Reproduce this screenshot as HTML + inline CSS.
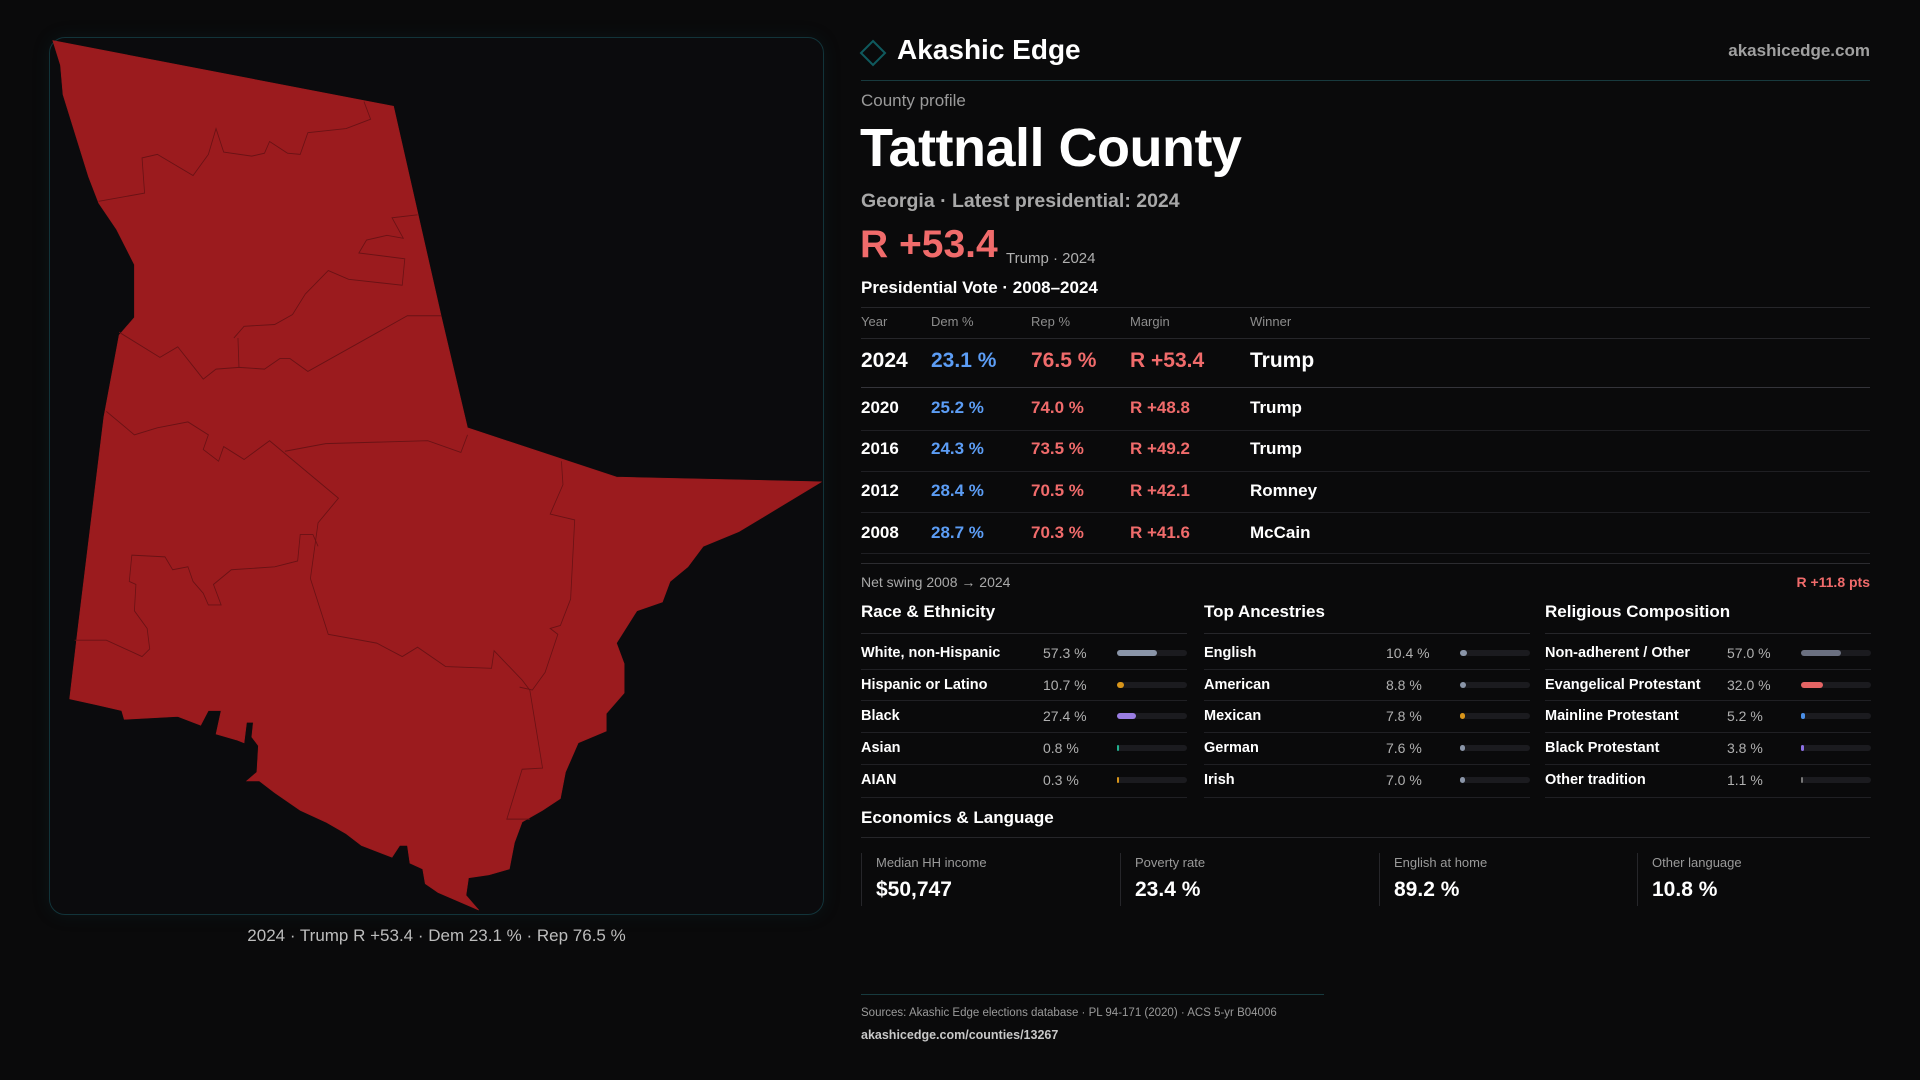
<!DOCTYPE html>
<html><head><meta charset="utf-8">
<style>
*{margin:0;padding:0;box-sizing:border-box}
body{width:1920px;height:1080px;background:#0a0a0b;font-family:"Liberation Sans",sans-serif;color:#fff;position:relative;overflow:hidden}
.a{position:absolute;white-space:nowrap}
.ln{position:absolute;height:1px;background:#26262a}
.g{color:#a9a9a9}
.red{color:#f06b6b}
.blue{color:#5c9df5}
</style></head><body>
<div class="a" style="left:49px;top:37px;width:775px;height:878px;border:1px solid #12343a;border-radius:16px;background:#0b0b0d;box-shadow:0 0 18px rgba(20,80,90,0.15)"></div>
<svg class="a" style="left:0;top:0" width="900" height="960">
<g transform="translate(40,30) scale(0.5102,0.5867)">
<polygon fill="#9b1b1e" stroke="#9b1b1e" stroke-width="1" points="25,18 693,130 787,490 838,678 1130,762 1532,770 1370,855 1300,880 1270,915 1235,940 1220,975 1170,990 1130,1045 1145,1080 1145,1130 1110,1165 1110,1195 1055,1215 1030,1265 1020,1310 985,1330 945,1350 930,1385 920,1430 880,1440 840,1445 835,1475 860,1500 780,1470 755,1455 750,1430 725,1420 720,1390 705,1390 690,1410 630,1390 600,1370 560,1350 510,1330 460,1300 430,1280 405,1280 425,1265 428,1220 415,1205 418,1180 405,1180 400,1215 385,1210 345,1200 355,1160 330,1160 315,1185 270,1170 165,1175 160,1160 110,1150 58,1140 75,1015 125,660 155,520 185,490 185,400 150,340 115,295 95,250 70,180 45,110 40,60"/>
<g fill="none" stroke="#6a1215" stroke-width="1.6">
<polyline points="155,515 235,558 270,540 320,595 345,578 390,575 440,578 470,560 490,560 525,582 720,487 787,487"/>
<polyline points="115,292 205,278 200,218 230,212 300,248 330,212 345,168 360,208 415,215 440,210 450,190 485,210 510,212 525,175 600,168 648,152 635,122"/>
<polyline points="380,525 400,505 460,502 495,485 520,450 565,410 605,425 710,435 715,390 625,380 640,358 680,350 712,355 690,320 740,315"/>
<polyline points="390,575 388,525"/>
<polyline points="130,650 185,690 230,678 290,668 330,690 320,715 350,735 360,710 400,732 450,700 585,798 545,840 530,935 565,1030 660,1045 710,1068 740,1052 795,1085 885,1088 890,1058 945,1108 960,1125 985,1258 945,1260 915,1345 960,1345"/>
<polyline points="480,718 560,705 760,700 825,720 838,690"/>
<polyline points="1022,735 1025,775 1000,825 1048,835 1040,970 1020,1015 1000,1020 1015,1030 990,1095 965,1125 940,1120"/>
<polyline points="68,1040 130,1040 200,1068 215,1055 210,1020 185,990 188,945 175,940 180,895 245,898 260,920 290,915 300,940 320,960 330,980 355,980 340,945 375,920 460,915 505,905 510,860 535,860 545,880"/>
</g></g></svg>
<div class="a g" style="left:49px;width:775px;text-align:center;top:925px;font-size:17px;line-height:22px;color:#bdbdbd">2024 · Trump R +53.4 · Dem 23.1 % · Rep 76.5 %</div>

<svg class="a" style="left:859px;top:39px" width="28" height="28"><polygon points="14,2 26,14 14,26 2,14" fill="none" stroke="#0f5a5e" stroke-width="2"/></svg>
<div class="a" style="left:897px;top:33px;font-size:28px;line-height:34px;font-weight:bold">Akashic Edge</div>
<div class="a" style="right:50px;top:40px;font-size:17px;line-height:22px;color:#a0a0a0;font-weight:bold">akashicedge.com</div>
<div class="ln" style="left:861px;width:1009px;top:80px;background:#183a3e"></div>

<div class="a" style="left:861px;top:90px;font-size:17px;line-height:22px;color:#9a9a9a">County profile</div>
<div class="a" style="left:860px;top:115px;font-size:54px;line-height:66px;font-weight:bold;letter-spacing:-0.5px">Tattnall County</div>
<div class="a" style="left:861px;top:189px;font-size:19.5px;line-height:25px;color:#a8a8a8;font-weight:bold">Georgia · Latest presidential: 2024</div>
<div class="a red" style="left:860px;top:222px;font-size:39px;line-height:46px;font-weight:bold">R +53.4</div>
<div class="a" style="left:1006px;top:249px;font-size:15px;line-height:19px;color:#b0b0b0">Trump · 2024</div>
<div class="a" style="left:861px;top:277px;font-size:17px;line-height:22px;font-weight:bold">Presidential Vote · 2008–2024</div>
<div class="ln" style="left:861px;width:1009px;top:307px"></div>

<div class="a g" style="left:861px;top:573px;font-size:14px;line-height:18px">Net swing 2008 → 2024</div>
<div class="a red" style="right:50px;top:573px;font-size:14px;line-height:18px;font-weight:bold">R +11.8 pts</div>

<div class="a" style="left:861px;top:807px;font-size:17px;line-height:22px;font-weight:bold">Economics &amp; Language</div>
<div class="ln" style="left:861px;width:1009px;top:837px"></div>

<div class="ln" style="left:861px;width:463px;top:994px;background:#173a3e"></div>
<div class="a" style="left:861px;top:1006px;font-size:11.5px;line-height:15px;color:#9a9a9a">Sources: Akashic Edge elections database · PL 94-171 (2020) · ACS 5-yr B04006</div>
<div class="a" style="left:861px;top:1027px;font-size:12.5px;line-height:16px;color:#c8c8c8;font-weight:bold">akashicedge.com/counties/13267</div>

<script>
const years=["2024","2020","2016","2012","2008"];
const demPct=[23.1,25.2,24.3,28.4,28.7];
const repPct=[76.5,74.0,73.5,70.5,70.3];
const winners=["Trump","Trump","Trump","Romney","McCain"];
const raceLabels=["White, non-Hispanic","Hispanic or Latino","Black","Asian","AIAN"];
const raceVals=[57.3,10.7,27.4,0.8,0.3];
const ancLabels=["English","American","Mexican","German","Irish"];
const ancVals=[10.4,8.8,7.8,7.6,7.0];
const relLabels=["Non-adherent / Other","Evangelical Protestant","Mainline Protestant","Black Protestant","Other tradition"];
const relVals=[57.0,32.0,5.2,3.8,1.1];
const statLabels=["Median HH income","Poverty rate","English at home","Other language"];
const statVals=["$50,747","23.4 %","89.2 %","10.8 %"];

function mk(parent,css,txt){const d=document.createElement('div');d.className='a';d.style.cssText=css;if(txt!==undefined)d.textContent=txt;parent.appendChild(d);return d;}
const body=document.body;
const hx=[861,931,1031,1130,1250];
const hdr=["Year","Dem %","Rep %","Margin","Winner"];
hdr.forEach((h,i)=>{const d=mk(body,`left:${hx[i]}px;top:314px;font-size:13px;line-height:16px;color:#8d8d8d`,h);

});
const l0=mk(body,'left:861px;width:1009px;top:338px;height:1px;background:#26262a');


const rowCy=[361,408,449,491,533];
const rowLine=[387,430,471,512,553];
years.forEach((y,i)=>{
 const big=i===0;const fs=big?21:17;const lh=26;const top=rowCy[i]-lh/2;
 const m=repPct[i]-demPct[i];
 const cells=[[y,'#fff'],[demPct[i].toFixed(1)+' %','#5c9df5'],[repPct[i].toFixed(1)+' %','#f06b6b'],['R +'+m.toFixed(1),'#f06b6b'],[winners[i],'#fff']];
 cells.forEach((c,j)=>{const d=mk(body,`left:${hx[j]}px;top:${top}px;font-size:${fs}px;line-height:${lh}px;font-weight:bold;color:${c[1]}`,c[0]);
 
 });
 const l=mk(body,`left:861px;width:1009px;top:${rowLine[i]}px;height:1px;background:${big?'#34343a':'#1f1f23'}`);
 
 
});
const l2=mk(body,'left:861px;width:1009px;top:563px;height:1px;background:#2c2c30');



const secs=[["Race & Ethnicity",raceLabels,raceVals,["#8a95a8","#d8951a","#9a7de2","#22b08f","#d8951a"],861,'race'],
["Top Ancestries",ancLabels,ancVals,["#8a95a8","#8a95a8","#d8951a","#8a95a8","#8a95a8"],1204,'ancestry'],
["Religious Composition",relLabels,relVals,["#6b7080","#e46464","#4a8ee6","#8b6fe2","#777"],1545,'religion']];
const secRowCy=[653,685,716,748,780];
const secLine=[669,700,732,764,797];
secs.forEach(s=>{
 const x=s[4];
 const t=mk(body,`left:${x}px;top:601px;font-size:17px;line-height:22px;font-weight:bold`,s[0]);
 
 
 const tl=mk(body,`left:${x}px;width:326px;top:633px;height:1px;background:#26262a`);
 
 
 s[1].forEach((lab,i)=>{
  const top=secRowCy[i]-9;
  const a=mk(body,`left:${x}px;top:${top}px;font-size:14.5px;line-height:18px;font-weight:bold`,lab);
  
  
  const v=mk(body,`left:${x+182}px;top:${top}px;font-size:14px;line-height:18px;color:#b0b0b0`,s[2][i].toFixed(1)+' %');
  
  
  const tr=mk(body,`left:${x+256}px;top:${secRowCy[i]-3}px;width:70px;height:6px;border-radius:3px;background:#1b1b1f`);
  
  
  const w=Math.max(1.5,70*s[2][i]/100);
  const b=mk(body,`left:${x+256}px;top:${secRowCy[i]-3}px;width:${w}px;height:6px;border-radius:3px;background:${s[3][i]}`);
  
  
  const rl=mk(body,`left:${x}px;width:326px;top:${secLine[i]}px;height:1px;background:#202024`);
  
  
 });
});
const sx=[861,1120,1379,1637];
statLabels.forEach((l,i)=>{
 const bd=mk(body,`left:${sx[i]}px;top:853px;width:1px;height:53px;background:#26262a`);
 
 
 const a=mk(body,`left:${sx[i]+15}px;top:855px;font-size:13px;line-height:16px;color:#9a9a9a`,l);
 
 
 const v=mk(body,`left:${sx[i]+15}px;top:877px;font-size:21px;line-height:26px;font-weight:bold`,statVals[i]);
 
 
});
</script>
</body></html>
